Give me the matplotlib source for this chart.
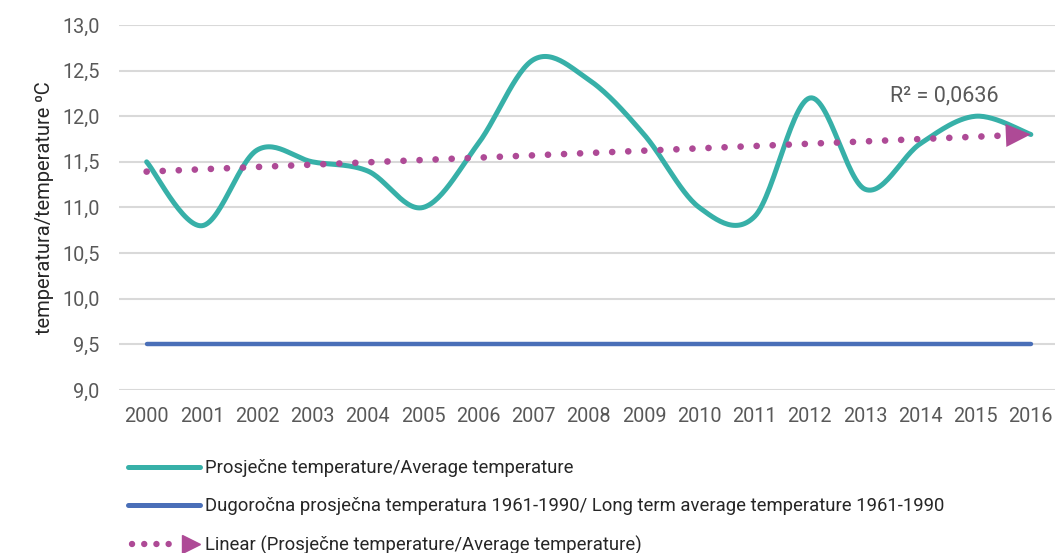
import numpy as np
import matplotlib
matplotlib.use("Agg")
import matplotlib.pyplot as plt
from matplotlib.lines import Line2D
from matplotlib.legend_handler import HandlerBase
from matplotlib.ticker import FuncFormatter

plt.rcParams["font.family"] = ["Roboto", "DejaVu Sans"]

# podaci
years = list(range(2000, 2017))
avg_temp = [11.5, 10.8, 11.63, 11.5, 11.4, 11.0, 11.7, 12.62, 12.4, 11.8,
            11.0, 10.9, 12.2, 11.2, 11.7, 12.0, 11.8]
long_term = [9.5] * len(years)
r2_label = "R² = 0,0636"
labels = [
    "Prosječne temperature/Average temperature",
    "Dugoročna prosječna temperatura 1961-1990/ Long term average temperature 1961-1990",
    "Linear (Prosječne temperature/Average temperature)",
]

TEAL = "#37B0A8"
BLUE = "#4A6FB8"
PURPLE = "#AE4A96"
GRID = "#D9D9D9"
TXT = "#595959"


def smooth(x, y, n=30):
    # Excel-like smoothed line (Catmull-Rom bezier)
    x = np.asarray(x, float); y = np.asarray(y, float)
    px = np.concatenate([[x[0]], x, [x[-1]]])
    py = np.concatenate([[y[0]], y, [y[-1]]])
    t = np.linspace(0, 1, n)[:, None]
    xs, ys = [], []
    for i in range(1, len(px) - 2):
        p0 = np.array([px[i], py[i]]); p3 = np.array([px[i + 1], py[i + 1]])
        p1 = p0 + (np.array([px[i + 1], py[i + 1]]) - np.array([px[i - 1], py[i - 1]])) / 6
        p2 = p3 - (np.array([px[i + 2], py[i + 2]]) - np.array([px[i], py[i]])) / 6
        b = ((1 - t) ** 3) * p0 + 3 * ((1 - t) ** 2) * t * p1 + 3 * (1 - t) * t ** 2 * p2 + t ** 3 * p3
        xs.append(b[:, 0]); ys.append(b[:, 1])
    return np.concatenate(xs), np.concatenate(ys)


class ArrowLineHandler(HandlerBase):
    def create_artists(self, legend, orig_handle, xdescent, ydescent, width, height, fontsize, trans):
        y = height / 2 - ydescent
        x0, x1 = -xdescent, width - xdescent
        dots = Line2D([x0 + 3, x1 - 14], [y, y], color=PURPLE, lw=4.6,
                      ls=(0, (0.01, 1.9)), dash_capstyle="round")
        head = Line2D([x1 - 6], [y], marker=">", ms=13, color=PURPLE, mec=PURPLE)
        dots.set_transform(trans); head.set_transform(trans)
        return [dots, head]


fig = plt.figure(figsize=(10.55, 5.53), dpi=100)
ax = fig.add_axes([0.1128, 0.2948, 0.8905, 0.66])

sx, sy = smooth(years, avg_temp)
ax.plot(sx, sy, color=TEAL, lw=3.6, solid_capstyle="round", zorder=3)
ax.plot(years, long_term, color=BLUE, lw=3.2, solid_capstyle="round", zorder=3)

# linearni trend
k, b = np.polyfit(years, avg_temp, 1)
tx = np.array([years[0], years[-1] - 0.3])
ax.plot(tx, k * tx + b, color=PURPLE, lw=4.8, ls=(0, (0.01, 2.4)),
        dash_capstyle="round", zorder=4)
ax.annotate("", xy=(years[-1], k * years[-1] + b),
            xytext=(years[-1] - 0.45, k * (years[-1] - 0.45) + b),
            arrowprops=dict(arrowstyle="-|>,head_length=1.0,head_width=0.46",
                            mutation_scale=18, color=PURPLE, lw=0,
                            shrinkA=0, shrinkB=0), zorder=4)
ax.text(2013.45, 12.22, r2_label, color=TXT, fontsize=15.5, va="center", ha="left")

ax.set_xlim(1999.5, 2016.5)
ax.set_ylim(9.0, 13.0)
ax.set_yticks(np.arange(9.0, 13.01, 0.5))
ax.set_xticks(years)
ax.yaxis.set_major_formatter(FuncFormatter(lambda v, p: f"{v:.1f}".replace(".", ",")))
ax.grid(axis="y", color=GRID, lw=1.5)
ax.set_axisbelow(True)
for s in ax.spines.values():
    s.set_visible(False)
ax.tick_params(axis="both", length=0, labelsize=14.3, labelcolor=TXT)
ax.tick_params(axis="y", pad=14)
ax.tick_params(axis="x", pad=12)
ax.set_ylabel("temperatura/temperature ⁰C", fontsize=14.5, color="#262626", labelpad=6)

handles = [Line2D([], [], color=TEAL, lw=3.6, solid_capstyle="round"),
           Line2D([], [], color=BLUE, lw=3.6, solid_capstyle="round"),
           object()]
fig.legend(handles, labels, loc="upper left", bbox_to_anchor=(0.121, 0.17),
           frameon=False, fontsize=13.3, labelcolor="#262626",
           handlelength=3.9, handletextpad=0.3, labelspacing=1.1,
           borderaxespad=0, borderpad=0,
           handler_map={object: ArrowLineHandler()})

fig.savefig("out.png", dpi=100)
